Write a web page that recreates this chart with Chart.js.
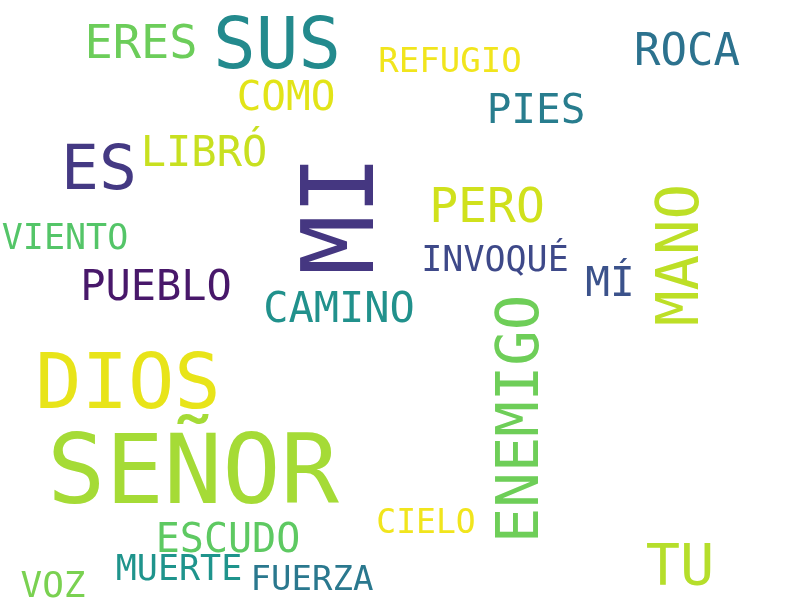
<!DOCTYPE html>
<html>
<head>
<meta charset="utf-8">
<script src="https://cdn.jsdelivr.net/npm/chart.js@4"></script>
<style>
  html, body { margin: 0; padding: 0; background: #fff; }
  #nube { display: block; }
</style>
</head>
<body>
<canvas id="nube" width="800" height="600"></canvas>
<script>
// palabras del Salmo y su peso (tamaño de letra)
const palabras = ["SEÑOR", "MI", "DIOS", "SUS", "ES", "ERES", "PERO", "ENEMIGO", "MANO", "TU", "ROCA", "CAMINO", "LIBRÓ", "PUEBLO", "MÍ", "COMO", "PIES", "ESCUDO", "VIENTO", "INVOQUÉ", "VOZ", "MUERTE", "REFUGIO", "FUERZA", "CIELO"];
const pesos = [97, 100, 77, 71, 63, 47, 48, 59, 59, 57, 44, 42, 42, 42, 41, 41, 41, 40, 35, 35, 36, 35, 34, 34, 33];
// posición de cada palabra (centro horizontal, línea base)
const posX = [193, 373, 128, 277, 99, 141, 487, 538, 698, 680, 687, 339, 204, 156, 610, 286, 536, 228, 65, 495, 53, 179, 450, 312, 426];
const posY = [503, 215, 408, 68, 189, 58, 222, 419, 255, 585, 65, 322, 166, 300, 296, 110, 123, 552, 249, 271, 597, 580, 72, 590, 533];
const vertical = [0, 1, 0, 0, 0, 0, 0, 1, 1, 0, 0, 0, 0, 0, 0, 0, 0, 0, 0, 0, 0, 0, 0, 0, 0];
const colores = ["#a5db36", "#453781", "#e8e419", "#238a8d", "#443983", "#6ccd5a", "#d0e11c", "#6ece58", "#bddf26", "#b5de2b", "#2c728e", "#21918c", "#c8e020", "#48186a", "#3b528b", "#e2e418", "#287d8e", "#5ec962", "#54c568", "#3e4989", "#7ad151", "#1f948c", "#f1e51d", "#2a788e", "#f1e51d"];

const puntos = palabras.map((p, i) => ({ x: posX[i], y: posY[i] }));

const dibujarPalabras = {
  id: "palabras",
  afterDatasetsDraw(chart) {
    const ctx = chart.ctx;
    const meta = chart.getDatasetMeta(0);
    meta.data.forEach((el, i) => {
      ctx.save();
      ctx.fillStyle = colores[i];
      ctx.font = pesos[i] + "px 'DejaVu Sans Mono', monospace";
      ctx.textAlign = "center";
      ctx.textBaseline = "alphabetic";
      ctx.translate(el.x, el.y);
      if (vertical[i]) ctx.rotate(-Math.PI / 2);
      ctx.fillText(palabras[i], 0, 0);
      ctx.restore();
    });
  }
};

new Chart(document.getElementById("nube"), {
  type: "scatter",
  data: {
    datasets: [{
      data: puntos,
      pointRadius: 0,
      pointHoverRadius: 0
    }]
  },
  options: {
    responsive: false,
    animation: false,
    layout: { padding: 0 },
    plugins: { legend: { display: false }, tooltip: { enabled: false } },
    scales: {
      x: { type: "linear", min: 0, max: 800, display: false },
      y: { type: "linear", min: 0, max: 600, reverse: true, display: false }
    }
  },
  plugins: [dibujarPalabras]
});
</script>
</body>
</html>
